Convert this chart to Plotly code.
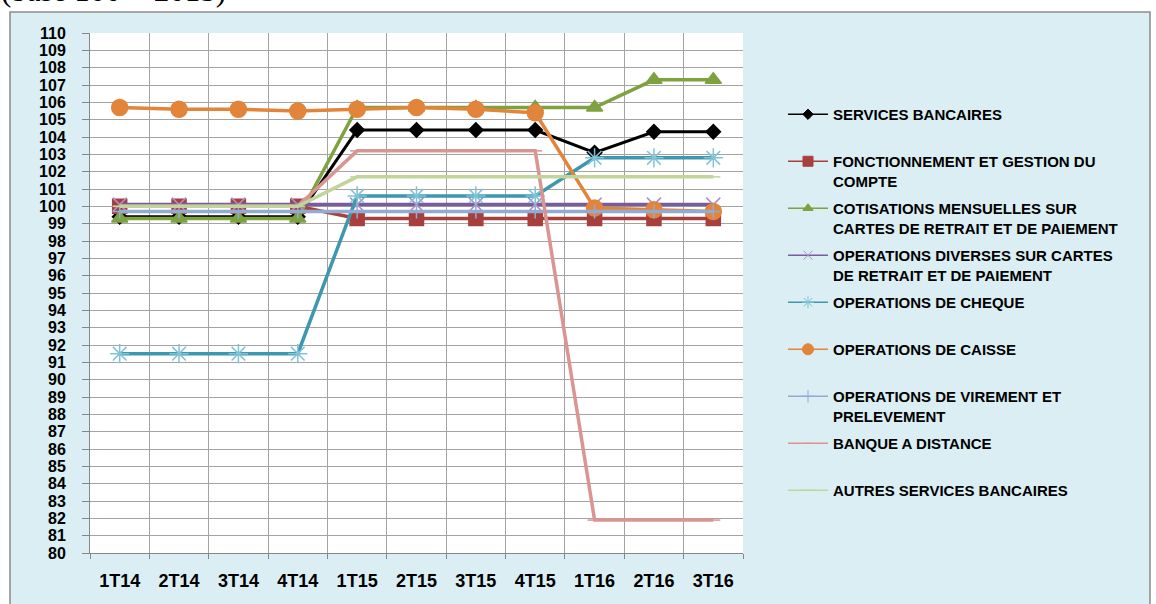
import plotly.graph_objects as go

# ---------------- data ----------------
quarters = ["1T14", "2T14", "3T14", "4T14", "1T15", "2T15", "3T15", "4T15", "1T16", "2T16", "3T16"]

services_bancaires = [99.4, 99.4, 99.4, 99.4, 104.4, 104.4, 104.4, 104.4, 103.1, 104.3, 104.3]
fonctionnement = [100.0, 100.0, 100.0, 100.0, 99.3, 99.3, 99.3, 99.3, 99.3, 99.3, 99.3]
cotisations = [99.3, 99.3, 99.3, 99.3, 105.7, 105.7, 105.7, 105.7, 105.7, 107.3, 107.3]
operations_diverses = [100.1, 100.1, 100.1, 100.1, 100.1, 100.1, 100.1, 100.1, 100.1, 100.1, 100.1]
operations_cheque = [91.5, 91.5, 91.5, 91.5, 100.6, 100.6, 100.6, 100.6, 102.8, 102.8, 102.8]
operations_caisse = [105.7, 105.6, 105.6, 105.5, 105.6, 105.7, 105.6, 105.4, 99.9, 99.8, 99.7]
operations_virement = [99.7, 99.7, 99.7, 99.7, 99.7, 99.7, 99.7, 99.7, 99.7, 99.7, 99.7]
banque_distance = [100.0, 100.0, 100.0, 100.0, 103.2, 103.2, 103.2, 103.2, 81.9, 81.9, 81.9]
autres_services = [100.0, 100.0, 100.0, 100.0, 101.7, 101.7, 101.7, 101.7, 101.7, 101.7, 101.7]

series_names = [
    "SERVICES BANCAIRES",
    "FONCTIONNEMENT ET GESTION DU<br>COMPTE",
    "COTISATIONS MENSUELLES SUR<br>CARTES DE RETRAIT ET DE PAIEMENT",
    "OPERATIONS DIVERSES SUR CARTES<br>DE RETRAIT ET DE PAIEMENT",
    "OPERATIONS DE CHEQUE",
    "OPERATIONS DE CAISSE",
    "OPERATIONS DE VIREMENT ET<br>PRELEVEMENT",
    "BANQUE A DISTANCE",
    "AUTRES SERVICES BANCAIRES",
]
series_values = [services_bancaires, fonctionnement, cotisations, operations_diverses,
                 operations_cheque, operations_caisse, operations_virement,
                 banque_distance, autres_services]

# ---------------- styles ----------------
line_colors = ["#000000", "#A7403D", "#7EA23F", "#7A5C9E", "#3F97AF", "#E2843A", "#93AAD2", "#D99592", "#C1D59A"]
marker_colors = ["#000000", "#A7403D", "#7EA23F", "#A891C8", "#7FC3D6", "#E2843A", "#93AAD2", "#D99592", "#C1D59A"]
symbols = ["diamond", "square", "triangle-up", "x-thin-open", "asterisk-open", "circle", "cross-thin-open", "line-ew-open", "line-ew-open"]
msizes = [11, 14, 14, 14, 16, 16, 10, 10, 10]
lwidths = [3, 3.5, 3.5, 3.5, 3.5, 3.5, 3.5, 3.5, 3.5]
leg_msizes = [8, 10, 9, 9, 10, 11, 9, 8, 8]

W, H = 1156, 604
L, R, T, B = 90, 743, 33, 553

def px_x(p):
    return (p - L) / (R - L)

def px_y(p):
    return (B - p) / (B - T)

fig = go.Figure()
x_idx = list(range(len(quarters)))
for i, (name, vals) in enumerate(zip(series_names, series_values)):
    fig.add_trace(go.Scatter(
        x=x_idx, y=vals, name=name, mode="lines+markers", showlegend=False,
        line=dict(color=line_colors[i], width=lwidths[i]),
        marker=dict(symbol=symbols[i], size=msizes[i], color=marker_colors[i],
                    line=dict(color=marker_colors[i], width=1.5)),
        hoverinfo="skip",
    ))
# legend entries (thin samples, like the original legend)
for i, name in enumerate(series_names):
    label = name if "<br>" in name else name + "<br>\u00a0"
    fig.add_trace(go.Scatter(
        x=[None], y=[None], name=label, mode="lines+markers",
        legendgroup="g%d" % i, showlegend=True,
        line=dict(color=line_colors[i], width=1.5),
        marker=dict(symbol=symbols[i], size=leg_msizes[i], color=marker_colors[i],
                    line=dict(color=marker_colors[i], width=1)),
        hoverinfo="skip",
    ))

grid_col = "#A3A3A3"
axis_col = "#868686"

fig.update_layout(
    width=W, height=H,
    margin=dict(l=L, r=W - R, t=T, b=H - B, pad=0, autoexpand=False),
    paper_bgcolor="white",
    plot_bgcolor="white",
    font=dict(family="Arial", color="black"),
    showlegend=True,
    legend=dict(
        x=px_x(783), y=px_y(98), xanchor="left", yanchor="top",
        bgcolor="rgba(0,0,0,0)", borderwidth=0,
        font=dict(family="Arial", size=15, color="black", weight="bold"),
        valign="top", traceorder="grouped", tracegroupgap=5,
        itemwidth=40,
    ),
    xaxis=dict(
        range=[-0.5, 10.5], tickmode="array", tickvals=x_idx, ticktext=quarters,
        showgrid=False, ticks="", showline=True, linecolor=axis_col, linewidth=1,
        tickfont=dict(family="Arial", size=18, color="black", weight="bold"),
        ticklabelstandoff=11, zeroline=False, automargin=False,
        minor=dict(tickmode="linear", tick0=-0.5, dtick=1, showgrid=True,
                   gridcolor=grid_col, gridwidth=1, ticks="outside", ticklen=5,
                   tickcolor=axis_col),
    ),
    yaxis=dict(
        range=[80, 110], dtick=1, tick0=80, showgrid=True, gridcolor=grid_col, gridwidth=1,
        ticks="outside", ticklen=7, tickcolor=axis_col, showline=True,
        linecolor=axis_col, linewidth=1, zeroline=False, automargin=False,
        tickfont=dict(family="Arial", size=16, color="black", weight="bold"),
        ticklabelstandoff=13,
    ),
    shapes=[
        dict(type="rect", xref="paper", yref="paper", layer="below",
             x0=px_x(10), x1=px_x(1150), y0=px_y(12), y1=px_y(620),
             fillcolor="#DAEEF3", line=dict(color="#8C8C8C", width=1.5)),
        dict(type="rect", xref="paper", yref="paper", layer="below",
             x0=0, x1=1, y0=0, y1=1, fillcolor="white", line=dict(width=0)),
    ],
    annotations=[
        dict(text="(base 100 = 2015)", xref="paper", yref="paper",
             x=px_x(-1), y=px_y(10.5), xanchor="left", yanchor="bottom",
             showarrow=False,
             font=dict(family="Liberation Serif", size=31, color="black")),
    ],
)

fig.write_html("out.html", config={"displayModeBar": False},
               post_script="document.body.style.margin='0';document.body.style.overflow='hidden';")
